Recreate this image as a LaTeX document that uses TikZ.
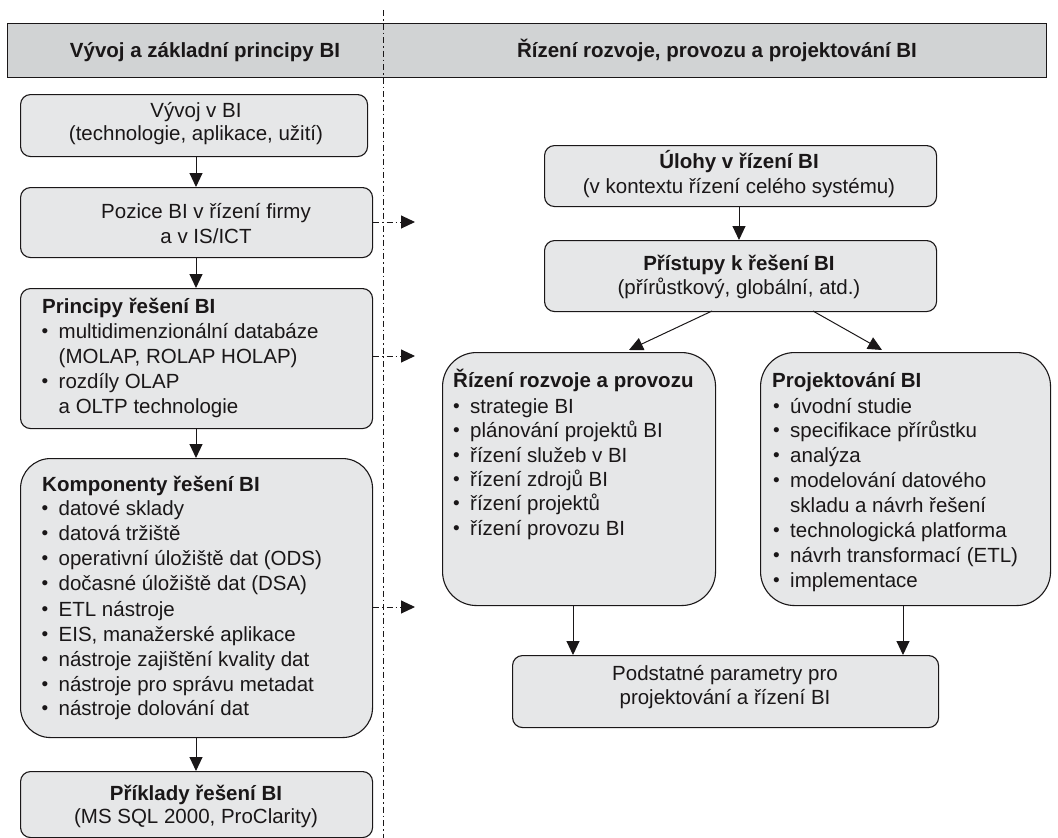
\documentclass[tikz,border=0pt]{standalone}
\usepackage{fontspec}
\setmainfont{Liberation Sans}
\usetikzlibrary{arrows.meta}
\definecolor{boxfill}{HTML}{E6E7E8}
\definecolor{headfill}{HTML}{D1D3D4}
\definecolor{ink}{HTML}{1A1718}
\newcommand{\bul}{\makebox[17pt][l]{\raisebox{0.3pt}{\fontsize{19}{19}\selectfont •}}}
\begin{document}
\begin{tikzpicture}[x=1pt,y=-1pt,
  font=\fontsize{20.5}{25}\selectfont, text=ink,
  box/.style={draw=ink, line width=1.1pt, fill=boxfill, rounded corners=10pt, anchor=north west, inner sep=0pt},
  bigbox/.style={box, rounded corners=34pt},
  headbox/.style={draw=ink, line width=1.1pt, fill=headfill, anchor=north west, inner sep=0pt},
  arr/.style={draw=ink, line width=1pt, -{Triangle[length=14pt,width=13pt]}},
  dda/.style={arr, dash pattern=on 6pt off 3pt on 1.5pt off 3pt},
  sep/.style={draw=ink, line width=1pt, dash pattern=on 6pt off 3pt on 1.5pt off 3pt},
  ct/.style={anchor=base, inner sep=0pt},
  lt/.style={anchor=base west, inner sep=0pt},
  bt/.style={font=\fontsize{20.5}{25}\selectfont\bfseries}]
\useasboundingbox (0,0) rectangle (1058,838);

% header
\node[headbox, minimum width=1039pt, minimum height=54pt] (head) at (7,23) {};
\node[ct, bt] (headL) at (205,57) {Vývoj a základní principy BI};
\node[ct, bt] (headR) at (717,57) {Řízení rozvoje, provozu a projektování BI};

% separator
\coordinate (sepT) at (383,10);
\coordinate (sepB) at (383,838);
\draw[sep] (sepT) -- (sepB);

% left column
\node[box, minimum width=347pt, minimum height=62pt] (b1) at (20,94) {};
\node[ct] (b1a) at (196,117) {Vývoj v BI};
\node[ct] (b1b) at (196,140) {(technologie, aplikace, užití)};

\node[box, minimum width=352pt, minimum height=70pt] (b2) at (20,187) {};
\node[ct] (b2a) at (206,218) {Pozice BI v řízení firmy};
\node[ct] (b2b) at (206,243) {a v IS/ICT};

\node[box, minimum width=352pt, minimum height=140pt] (b3) at (20,288) {};
\node[lt, bt] (b3t) at (42,313) {Principy řešení BI};
\node[lt] (b3a) at (41.5,338) {\bul multidimenzionální databáze};
\node[lt] (b3b) at (58.5,363) {(MOLAP, ROLAP HOLAP)};
\node[lt] (b3c) at (41.5,388) {\bul rozdíly OLAP};
\node[lt] (b3d) at (58.5,413) {a OLTP technologie};

\node[box, rounded corners=30pt, minimum width=352pt, minimum height=279pt] (b4) at (20,458) {};
\node[lt, bt] (b4t) at (42,491) {Komponenty řešení BI};
\node[lt] (b4a) at (41.5,515) {\bul datové sklady};
\node[lt] (b4b) at (41.5,540) {\bul datová tržiště};
\node[lt] (b4c) at (41.5,565) {\bul operativní úložiště dat (ODS)};
\node[lt] (b4d) at (41.5,590) {\bul dočasné úložiště dat (DSA)};
\node[lt] (b4e) at (41.5,616) {\bul ETL nástroje};
\node[lt] (b4f) at (41.5,641) {\bul EIS, manažerské aplikace};
\node[lt] (b4g) at (41.5,666) {\bul nástroje zajištění kvality dat};
\node[lt] (b4h) at (41.5,691) {\bul nástroje pro správu metadat};
\node[lt] (b4i) at (41.5,715) {\bul nástroje dolování dat};

\node[box, minimum width=352pt, minimum height=66pt] (b5) at (20,771) {};
\node[ct, bt] (b5a) at (196,800) {Příklady řešení BI};
\node[ct] (b5b) at (196,823) {(MS SQL 2000, ProClarity)};

\draw[arr] (b1.south -| 196,0) -- (b2.north -| 196,0);
\draw[arr] (b2.south -| 196,0) -- (b3.north -| 196,0);
\draw[arr] (b3.south -| 196,0) -- (b4.north -| 196,0);
\draw[arr] (b4.south -| 196,0) -- (b5.north -| 196,0);

% dash-dot arrows
\coordinate (d1) at (415,222);
\coordinate (d2) at (415,356);
\coordinate (d3) at (415,607);
\draw[dda] (b2.east |- d1) -- (d1);
\draw[dda] (b3.east |- d2) -- (d2);
\draw[dda] (b4.east |- d3) -- (d3);

% right column
\node[box, minimum width=392pt, minimum height=61pt] (r1) at (544,145) {};
\node[ct, bt] (r1a) at (739,168) {Úlohy v řízení BI};
\node[ct] (r1b) at (739,193) {(v kontextu řízení celého systému)};

\node[box, minimum width=392pt, minimum height=71pt] (r2) at (544,240) {};
\node[ct, bt] (r2a) at (739,270) {Přístupy k řešení BI};
\node[ct] (r2b) at (739,294) {(přírůstkový, globální, atd.)};

\draw[arr] (r1.south -| 739,0) -- (r2.north -| 739,0);

\node[bigbox, minimum width=273pt, minimum height=253pt] (r3) at (442,352) {};
\node[lt, bt] (r3t) at (453,387) {Řízení rozvoje a provozu};
\node[lt] (r3a) at (453,413) {\bul strategie BI};
\node[lt] (r3b) at (453,437) {\bul plánování projektů BI};
\node[lt] (r3c) at (453,462) {\bul řízení služeb v BI};
\node[lt] (r3d) at (453,486) {\bul řízení zdrojů BI};
\node[lt] (r3e) at (453,510) {\bul řízení projektů};
\node[lt] (r3f) at (453,535) {\bul řízení provozu BI};

\node[bigbox, minimum width=290pt, minimum height=253pt] (r4) at (760,352) {};
\node[lt, bt] (r4t) at (772,387) {Projektování BI};
\node[lt] (r4a) at (773,413) {\bul úvodní studie};
\node[lt] (r4b) at (773,437) {\bul specifikace přírůstku};
\node[lt] (r4c) at (773,462) {\bul analýza};
\node[lt] (r4d) at (773,487) {\bul modelování datového};
\node[lt] (r4e) at (790,512) {skladu a návrh řešení};
\node[lt] (r4f) at (773,537) {\bul technologická platforma};
\node[lt] (r4g) at (773,562) {\bul návrh transformací (ETL)};
\node[lt] (r4h) at (773,587) {\bul implementace};

\coordinate (a1s) at (712,311);
\coordinate (a1e) at (629,350);
\coordinate (a2s) at (813,311);
\coordinate (a2e) at (882,350);
\draw[arr] (a1s) -- (a1e);
\draw[arr] (a2s) -- (a2e);

\node[box, minimum width=426pt, minimum height=72pt] (r5) at (512,655) {};
\node[ct] (r5a) at (725,680) {Podstatné parametry pro};
\node[ct] (r5b) at (725,704) {projektování a řízení BI};

\draw[arr] (r3.south -| 573,0) -- (r5.north -| 573,0);
\draw[arr] (r4.south -| 903,0) -- (r5.north -| 903,0);
\end{tikzpicture}
\end{document}
